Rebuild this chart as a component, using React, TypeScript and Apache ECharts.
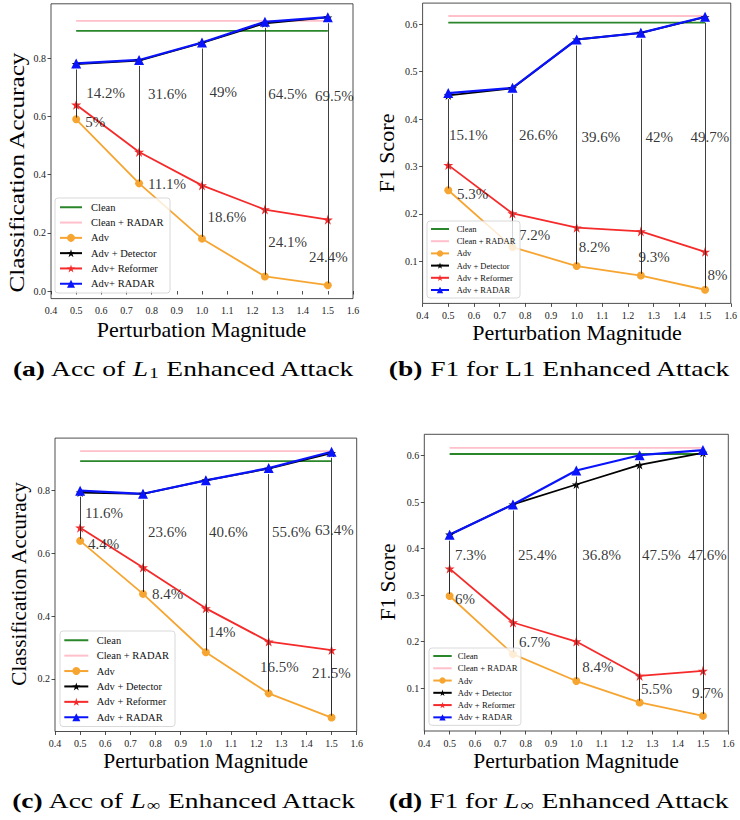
import React, { useEffect, useRef } from "react";
import * as echarts from "echarts";

// ---------- data ----------
const xValues = [0.5, 0.75, 1.0, 1.25, 1.5];
const xTickValues = [0.4, 0.5, 0.6, 0.7, 0.8, 0.9, 1.0, 1.1, 1.2, 1.3, 1.4, 1.5, 1.6];

// (a) Acc of L1 Enhanced Attack
const aClean = 0.894;
const aCleanRadar = 0.928;
const aAdv = [0.59, 0.37, 0.18, 0.05, 0.02];
const aDetector = [0.78, 0.792, 0.853, 0.92, 0.94];
const aReformer = [0.64, 0.478, 0.363, 0.28, 0.245];
const aRadar = [0.782, 0.794, 0.854, 0.925, 0.941];
const aYTicks = [0.0, 0.2, 0.4, 0.6, 0.8];
const aGainLabels = ["14.2%", "31.6%", "49%", "64.5%", "69.5%"];
const aGainPos = [[0.54, 0.681], [0.785, 0.677], [1.03, 0.684], [1.263, 0.677], [1.449, 0.67]];
const aReformLabels = ["5%", "11.1%", "18.6%", "24.1%", "24.4%"];
const aReformPos = [[0.536, 0.581], [0.785, 0.368], [1.022, 0.255], [1.263, 0.169], [1.425, 0.117]];

// (b) F1 for L1 Enhanced Attack
const bClean = 0.6035;
const bCleanRadar = 0.6176;
const bAdv = [0.25, 0.13, 0.09, 0.07, 0.04];
const bDetector = [0.45, 0.465, 0.568, 0.582, 0.615];
const bReformer = [0.303, 0.201, 0.171, 0.163, 0.12];
const bRadar = [0.455, 0.466, 0.568, 0.582, 0.616];
const bYTicks = [0.1, 0.2, 0.3, 0.4, 0.5, 0.6];
const bGainLabels = ["15.1%", "26.6%", "39.6%", "42%", "49.7%"];
const bGainPos = [[0.503, 0.366], [0.775, 0.366], [1.019, 0.362], [1.268, 0.362], [1.443, 0.362]];
const bReformLabels = ["5.3%", "7.2%", "8.2%", "9.3%", "8%"];
const bReformPos = [[0.534, 0.242], [0.775, 0.156], [1.008, 0.13], [1.241, 0.109], [1.509, 0.071]];

// (c) Acc of L-inf Enhanced Attack
const cClean = 0.894;
const cCleanRadar = 0.926;
const cAdv = [0.64, 0.471, 0.285, 0.154, 0.077];
const cDetector = [0.794, 0.79, 0.833, 0.87, 0.92];
const cReformer = [0.682, 0.555, 0.425, 0.319, 0.292];
const cRadar = [0.8, 0.79, 0.833, 0.872, 0.924];
const cYTicks = [0.2, 0.4, 0.6, 0.8];
const cGainLabels = ["11.6%", "23.6%", "40.6%", "55.6%", "63.4%"];
const cGainPos = [[0.519, 0.73], [0.77, 0.668], [1.013, 0.668], [1.263, 0.668], [1.434, 0.675]];
const cReformLabels = ["4.4%", "8.4%", "14%", "16.5%", "21.5%"];
const cReformPos = [[0.531, 0.63], [0.786, 0.471], [1.009, 0.35], [1.215, 0.238], [1.422, 0.219]];

// (d) F1 for L-inf Enhanced Attack
const dClean = 0.6036;
const dCleanRadar = 0.617;
const dAdv = [0.298, 0.173, 0.115, 0.069, 0.04];
const dDetector = [0.43, 0.495, 0.538, 0.58, 0.606];
const dReformer = [0.357, 0.241, 0.2, 0.126, 0.137];
const dRadar = [0.43, 0.495, 0.568, 0.601, 0.612];
const dYTicks = [0.1, 0.2, 0.3, 0.4, 0.5, 0.6];
const dGainLabels = ["7.3%", "25.4%", "36.8%", "47.5%", "47.6%"];
const dGainPos = [[0.521, 0.386], [0.77, 0.386], [1.023, 0.386], [1.259, 0.386], [1.441, 0.386]];
const dReformLabels = ["6%", "6.7%", "8.4%", "5.5%", "9.7%"];
const dReformPos = [[0.521, 0.292], [0.774, 0.199], [1.023, 0.145], [1.255, 0.098], [1.457, 0.089]];

const legendNamesA = ["Clean", "Clean + RADAR", "Adv", "Adv + Detector", "Adv+ Reformer", "Adv+ RADAR"];
const legendNames = ["Clean", "Clean + RADAR", "Adv", "Adv + Detector", "Adv + Reformer", "Adv + RADAR"];

// ---------- styling / layout ----------
const FONT = "Liberation Serif";
const GREEN = "#2a862a";
const PINK = "#ffc0cb";
const ORANGE = "#f7a531";
const RED = "#f52a2a";
const BLUE = "#0a14fa";
const BLACK = "#000000";
const STAR =
  "path://M0,-10L2.245,-3.09L9.511,-3.09L3.633,1.18L5.878,8.09L0,3.82L-5.878,8.09L-3.633,1.18L-9.511,-3.09L-2.245,-3.09Z";

const panels = [
  {
    clean: aClean, cleanRadar: aCleanRadar, adv: aAdv, det: aDetector, ref: aReformer, rad: aRadar,
    yTicks: aYTicks, gainLabels: aGainLabels, gainPos: aGainPos, refLabels: aReformLabels, refPos: aReformPos,
    names: legendNamesA,
    L: { left: 51, top: 3.8, w: 302, h: 294.8, yMin: -0.026, yMax: 0.987 },
    LG: { left: 55, top: 198, font: 10.5, lh: 11, iw: 22, ih: 10, gap: 4.3, pad: [3.75, 6.6, 3.75, 4], tp: 4 },
  },
  {
    clean: bClean, cleanRadar: bCleanRadar, adv: bAdv, det: bDetector, ref: bReformer, rad: bRadar,
    yTicks: bYTicks, gainLabels: bGainLabels, gainPos: bGainPos, refLabels: bReformLabels, refPos: bReformPos,
    names: legendNames,
    L: { left: 422.6, top: 3.1, w: 308.8, h: 300.3, yMin: 0.0112, yMax: 0.6448 },
    LG: { left: 427, top: 221, font: 8.5, lh: 9, iw: 18, ih: 8, gap: 3.2, pad: [3.5, 4.7, 3.5, 3], tp: 2.7 },
  },
  {
    clean: cClean, cleanRadar: cCleanRadar, adv: cAdv, det: cDetector, ref: cReformer, rad: cRadar,
    yTicks: cYTicks, gainLabels: cGainLabels, gainPos: cGainPos, refLabels: cReformLabels, refPos: cReformPos,
    names: legendNames,
    L: { left: 55, top: 438.1, w: 301.7, h: 293.4, yMin: 0.0325, yMax: 0.9675 },
    LG: { left: 60, top: 631, font: 10.5, lh: 11, iw: 24, ih: 10, gap: 4.4, pad: [3.75, 5.9, 3.75, 3.3], tp: 3.4 },
  },
  {
    clean: dClean, cleanRadar: dCleanRadar, adv: dAdv, det: dDetector, ref: dReformer, rad: dRadar,
    yTicks: dYTicks, gainLabels: dGainLabels, gainPos: dGainPos, refLabels: dReformLabels, refPos: dReformPos,
    names: legendNames,
    L: { left: 424.3, top: 434.3, w: 304, h: 296.7, yMin: 0.0075, yMax: 0.646 },
    LG: { left: 429, top: 648, font: 8.7, lh: 9, iw: 18.4, ih: 8, gap: 3.27, pad: [3.5, 3.3, 3.5, 3.3], tp: 1 },
  },
];

const pair = (ys: number[]) => xValues.map((x, i) => [x, ys[i]]);

function buildOption() {
  const grid: any[] = [];
  const xAxis: any[] = [];
  const yAxis: any[] = [];
  const legend: any[] = [];
  const series: any[] = [];

  panels.forEach((p, i) => {
    const L = p.L;
    grid.push({
      left: L.left, top: L.top, width: L.w, height: L.h,
      show: true, borderColor: "#222", borderWidth: 0.8, backgroundColor: "transparent",
    });
    xAxis.push({
      type: "value", gridIndex: i, min: 0.4, max: 1.6,
      axisLine: { show: false },
      splitLine: { show: false },
      axisTick: { show: true, inside: false, length: 3.5, customValues: xTickValues, lineStyle: { color: "#222", width: 0.8 } },
      axisLabel: {
        customValues: xTickValues, margin: 7, fontFamily: FONT, fontSize: 10, color: "#222",
        formatter: (v: number) => v.toFixed(1),
      },
    });
    yAxis.push({
      type: "value", gridIndex: i, min: L.yMin, max: L.yMax,
      axisLine: { show: false },
      splitLine: { show: false },
      axisTick: { show: true, inside: false, length: 3.5, customValues: p.yTicks, lineStyle: { color: "#222", width: 0.8 } },
      axisLabel: {
        customValues: p.yTicks, margin: 5, fontFamily: FONT, fontSize: 10, color: "#222",
        formatter: (v: number) => v.toFixed(1),
      },
    });
    const G = p.LG;
    legend.push({
      data: p.names.map((n, k) => (k < 2 ? { name: n, itemStyle: { opacity: 0 } } : { name: n })),
      orient: "vertical", left: G.left, top: G.top,
      itemWidth: G.iw, itemHeight: G.ih, itemGap: G.gap, padding: G.pad,
      backgroundColor: "rgba(255,255,255,0.8)", borderColor: "#cfcfcf", borderWidth: 0.8, borderRadius: 3,
      selectedMode: false, z: 6,
      textStyle: { fontFamily: FONT, fontSize: G.font, lineHeight: G.lh, color: "#111", padding: [0, 0, 0, G.tp] },
    });

    const base = { type: "line", xAxisIndex: i, yAxisIndex: i, silent: true };
    series.push(
      { ...base, name: p.names[0], data: pair(xValues.map(() => p.clean)), symbol: "none", z: 2,
        lineStyle: { color: GREEN, width: 1.8 }, itemStyle: { color: GREEN } },
      { ...base, name: p.names[1], data: pair(xValues.map(() => p.cleanRadar)), symbol: "none", z: 2,
        lineStyle: { color: PINK, width: 1.8 }, itemStyle: { color: PINK } },
      { ...base, name: p.names[2], data: pair(p.adv), symbol: "circle", symbolSize: 8, z: 2,
        lineStyle: { color: ORANGE, width: 1.8 }, itemStyle: { color: ORANGE } },
      { ...base, name: p.names[3], data: pair(p.det), symbol: STAR, symbolSize: 9, z: 2,
        lineStyle: { color: BLACK, width: 1.8 }, itemStyle: { color: BLACK } },
      { ...base, name: p.names[4], data: pair(p.ref), symbol: STAR, symbolSize: 10, z: 2,
        lineStyle: { color: RED, width: 1.8 }, itemStyle: { color: RED } },
      { ...base, name: p.names[5], data: pair(p.rad), symbol: "triangle", symbolSize: 10, z: 2,
        lineStyle: { color: BLUE, width: 2.2 }, itemStyle: { color: BLUE } }
    );

    // arrows (Adv -> Reformer, Adv -> RADAR) and gain annotations
    const ppu = L.h / (L.yMax - L.yMin);
    const s0 = 2 / ppu, sR = 6 / ppu, sF = 4 / ppu;
    const arrows: any[] = [];
    xValues.forEach((x, k) => {
      arrows.push([{ coord: [x, p.adv[k] + s0] }, { coord: [x, p.rad[k] - sR] }]);
      arrows.push([{ coord: [x, p.adv[k] + s0] }, { coord: [x, p.ref[k] - sF] }]);
    });
    const texts = [
      ...p.gainLabels.map((t, k) => ({ name: t, value: p.gainPos[k] })),
      ...p.refLabels.map((t, k) => ({ name: t, value: p.refPos[k] })),
    ];
    series.push({
      type: "scatter", xAxisIndex: i, yAxisIndex: i, silent: true, z: 3,
      symbolSize: 0.01, itemStyle: { color: "transparent" },
      data: texts,
      label: { show: true, position: "right", distance: 0, formatter: "{b}", fontFamily: FONT, fontSize: 15, color: "#000" },
      markLine: {
        silent: true, symbol: ["none", "triangle"], symbolSize: [0, 6], animation: false,
        lineStyle: { color: "#2a2a2a", width: 0.9, type: "solid" },
        label: { show: false }, emphasis: { disabled: true },
        data: arrows,
      },
    });
  });

  const T = (text: string, x: number, y: number, size: number, rot = 0, sx = 1) => ({
    type: "text", x, y, rotation: rot, scaleX: sx, silent: true,
    style: { text, fontFamily: FONT, fontSize: size, fill: "#000", align: "center", verticalAlign: "middle" },
  });
  const richCap = {
    n: { fontFamily: FONT, fontSize: 22, lineHeight: 26, verticalAlign: "middle", fill: "#000" },
    b: { fontFamily: FONT, fontSize: 22, lineHeight: 26, fontWeight: "bold", verticalAlign: "middle", fill: "#000" },
    i: { fontFamily: FONT, fontSize: 22, lineHeight: 26, fontStyle: "italic", verticalAlign: "middle", fill: "#000" },
    s: { fontFamily: FONT, fontSize: 15, lineHeight: 14, verticalAlign: "bottom", fill: "#000", padding: [0, 0, 0, 1] },
  };
  const cap = (text: string, x: number, y: number, sx: number) => ({
    type: "text", x, y, scaleX: sx, silent: true,
    style: {
      text, fontFamily: FONT, fontSize: 22, fill: "#000", align: "center", verticalAlign: "middle",
      rich: richCap,
    },
  });

  const graphic = [
    T("Classification Accuracy", 16.5, 172.5, 21, Math.PI / 2, 1.2),
    T("Perturbation Magnitude", 201.5, 329, 22),
    T("F1 Score", 386, 153, 22, Math.PI / 2),
    T("Perturbation Magnitude", 577, 332, 22),
    T("Classification Accuracy", 18.5, 584, 21.4, Math.PI / 2),
    T("Perturbation Magnitude", 205.6, 761, 21.5),
    T("F1 Score", 388, 582, 21.5, Math.PI / 2),
    T("Perturbation Magnitude", 576, 761, 21.6),
    cap("{b|(a)}{n| Acc of }{i|L}{s|1}{n| Enhanced Attack}", 183.5, 368, 1.25),
    cap("{b|(b)}{n| F1 for L1 Enhanced Attack}", 559.5, 368, 1.25),
    cap("{b|(c)}{n| Acc of }{i|L}{s|∞}{n| Enhanced Attack}", 184, 800, 1.25),
    cap("{b|(d)}{n| F1 for }{i|L}{s|∞}{n| Enhanced Attack}", 559, 800, 1.25),
  ];

  return { animation: false, backgroundColor: "#fff", grid, xAxis, yAxis, legend, series, graphic };
}

export default function App() {
  const ref = useRef<HTMLDivElement>(null);
  useEffect(() => {
    document.body.style.margin = "0";
    const chart = echarts.init(ref.current!, null, { renderer: "svg" });
    chart.setOption(buildOption() as any);
    return () => chart.dispose();
  }, []);
  return <div ref={ref} style={{ width: 740, height: 820 }} />;
}
